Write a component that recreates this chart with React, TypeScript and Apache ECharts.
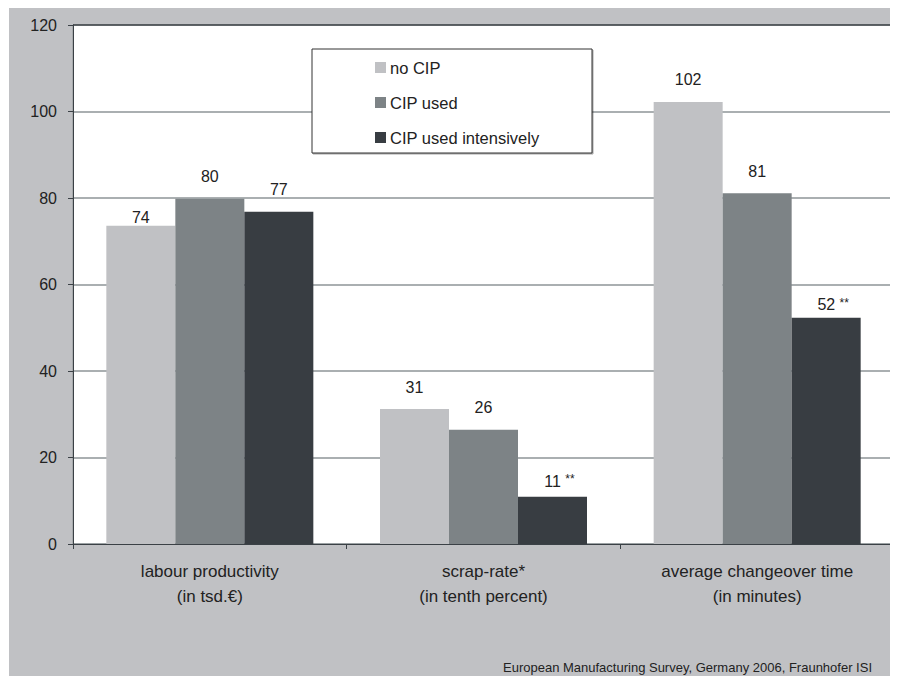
import React, { useEffect, useRef } from "react";
import * as echarts from "echarts";

const categories = [
  "labour productivity\n(in tsd.€)",
  "scrap-rate*\n(in tenth percent)",
  "average changeover time\n(in minutes)",
];
const seriesNames = ["no CIP", "CIP used", "CIP used intensively"];
const noCip = [73.6, 31.2, 102.2];
const cipUsed = [79.8, 26.4, 81.1];
const cipIntensive = [76.8, 10.9, 52.3];
const intensiveSignificant = [false, true, true];
const yTicks = [0, 20, 40, 60, 80, 100, 120];
const footnote = "European Manufacturing Survey, Germany 2006, Fraunhofer ISI";

const colors = ["#c0c1c4", "#7d8386", "#383d42"];
const FONT = "'Liberation Sans', Arial, sans-serif";

export default function App() {
  const ref = useRef<HTMLDivElement>(null);

  useEffect(() => {
    if (!ref.current) return;
    document.documentElement.style.overflow = "hidden";
    document.body.style.overflow = "hidden";
    const chart = echarts.init(ref.current, null, { renderer: "svg" });

    // label distance tweaks (styling only)
    const distances = [
      [0, 14, 14],
      [14, 14, 14],
      [14, 7.5, 5],
    ];

    const values = [noCip, cipUsed, cipIntensive];

    const series = values.map((vals, si) => ({
      name: seriesNames[si],
      type: "bar",
      barWidth: 69,
      barGap: "0%",
      itemStyle: { color: colors[si] },
      z: 2,
      data: vals.map((v, ci) => {
        const star = si === 2 && intensiveSignificant[ci];
        return {
          value: v,
          label: {
            show: true,
            position: "top",
            distance: distances[si][ci],
            offset: star ? [7, 0] : [0, 0],
            color: "#222",
            fontSize: 16,
            fontFamily: FONT,
            lineHeight: 16,
            formatter: () =>
              String(Math.round(v)) + (star ? " {s|**}" : ""),
            rich: {
              s: {
                fontSize: 12,
                fontFamily: FONT,
                color: "#222",
                verticalAlign: "top",
                lineHeight: 12,
              },
            },
          },
        };
      }),
    }));

    const gridLineColors = yTicks.map((t, i) =>
      i === yTicks.length - 1 ? "#3b4146" : "#8e9497"
    );

    chart.setOption({
      animation: false,
      backgroundColor: "#c0c1c4",
      textStyle: { fontFamily: FONT },
      grid: {
        left: 64,
        top: 17,
        width: 821,
        height: 519,
        show: true,
        backgroundColor: "#ffffff",
        borderColor: "#8e9497",
        borderWidth: 1,
      },
      legend: {
        orient: "vertical",
        left: 361,
        top: 46,
        itemWidth: 11,
        itemHeight: 11,
        itemGap: 18,
        icon: "rect",
        z: 5,
        textStyle: {
          fontSize: 16.5,
          lineHeight: 16,
          color: "#222",
          fontFamily: FONT,
          padding: [0, 0, 0, -1],
        },
        data: seriesNames,
      },
      xAxis: {
        type: "category",
        data: categories,
        axisLine: { show: true, lineStyle: { color: "#3b4146", width: 1 } },
        axisTick: {
          show: true,
          length: 5,
          interval: 0,
          lineStyle: { color: "#3b4146" },
        },
        axisLabel: {
          interval: 0,
          margin: 15,
          fontSize: 17,
          lineHeight: 25,
          color: "#222",
          fontFamily: FONT,
        },
      },
      yAxis: {
        type: "value",
        min: yTicks[0],
        max: yTicks[yTicks.length - 1],
        interval: 20,
        axisLine: { show: true, lineStyle: { color: "#3b4146", width: 1 } },
        axisTick: { show: true, length: 5, lineStyle: { color: "#3b4146" } },
        axisLabel: {
          margin: 16,
          fontSize: 16,
          color: "#222",
          fontFamily: FONT,
        },
        splitLine: {
          show: true,
          lineStyle: { color: gridLineColors, width: 1.5 },
        },
      },
      graphic: [
        {
          type: "rect",
          z: 4,
          shape: { x: 303, y: 41, width: 280, height: 104 },
          style: {
            fill: "#ffffff",
            stroke: "#333333",
            lineWidth: 1,
            shadowColor: "rgba(0,0,0,0.35)",
            shadowOffsetX: 1,
            shadowOffsetY: 1,
            shadowBlur: 1,
          },
        },
        {
          type: "text",
          z: 5,
          x: 863,
          y: 659,
          style: {
            text: footnote,
            fontSize: 13,
            fontFamily: FONT,
            fill: "#222",
            align: "right",
            verticalAlign: "middle",
          },
        },
      ],
      series,
    });

    return () => chart.dispose();
  }, []);

  return (
    <div
      ref={ref}
      style={{ width: 886, height: 668, marginLeft: 1 }}
    />
  );
}
